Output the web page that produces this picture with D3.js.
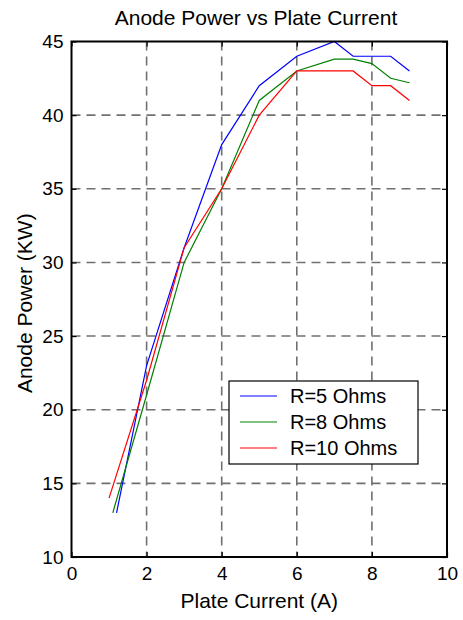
<!DOCTYPE html>
<html>
<head>
<meta charset="utf-8">
<script src="https://cdn.jsdelivr.net/npm/d3@7"></script>
<style>
  html, body { margin: 0; padding: 0; background: #fff; }
  svg { display: block; font-family: "Liberation Sans", Arial, Helvetica, sans-serif; }
</style>
</head>
<body>
<svg id="chart" width="463" height="620"></svg>
<script>
// Plate current (A) and anode power (KW) for three load resistances
const seriesNames = ["R=5 Ohms", "R=8 Ohms", "R=10 Ohms"];
const seriesColors = ["#0000ff", "#008000", "#ff0000"];

const currentR5  = [1.2, 2, 3, 4, 5, 6, 7, 7.5, 8, 8.5, 9];
const powerR5    = [13, 23, 31, 38, 42, 44, 45, 44, 44, 44, 43];

const currentR8  = [1.1, 2, 3, 4, 5, 6, 7, 7.5, 8, 8.5, 9];
const powerR8    = [13, 21, 30, 35, 41, 43, 43.8, 43.8, 43.5, 42.5, 42.2];

const currentR10 = [1, 2, 3, 4, 5, 6, 7, 7.5, 8, 8.5, 9];
const powerR10   = [14, 22, 31, 35, 40, 43, 43, 43, 42, 42, 41];

const xTicks = [0, 2, 4, 6, 8, 10];
const yTicks = [10, 15, 20, 25, 30, 35, 40, 45];

const series = [
  { name: seriesNames[0], color: seriesColors[0], xs: currentR5,  ys: powerR5 },
  { name: seriesNames[1], color: seriesColors[1], xs: currentR8,  ys: powerR8 },
  { name: seriesNames[2], color: seriesColors[2], xs: currentR10, ys: powerR10 }
];

const svg = d3.select("#chart");
const plotLeft = 71.5, plotRight = 447, plotTop = 41.5, plotBottom = 557;

const x = d3.scaleLinear().domain([0, 10]).range([plotLeft, plotRight]);
const y = d3.scaleLinear().domain([10, 45]).range([plotBottom, plotTop]);

// dashed grid
const grid = svg.append("g");
grid.selectAll("line.gx").data(xTicks.filter(t => t > 0 && t < 10)).join("line")
  .attr("x1", d => x(d)).attr("x2", d => x(d))
  .attr("y1", plotTop).attr("y2", plotBottom)
  .attr("stroke", "#707070").attr("stroke-width", 1.6)
  .attr("stroke-dasharray", "9,6");
grid.selectAll("line.gy").data(yTicks.filter(t => t > 10 && t < 45)).join("line")
  .attr("x1", plotLeft).attr("x2", plotRight)
  .attr("y1", d => y(d)).attr("y2", d => y(d))
  .attr("stroke", "#707070").attr("stroke-width", 1.6)
  .attr("stroke-dasharray", "9,6");

// data lines
const line = d3.line().x(d => x(d[0])).y(d => y(d[1]));
svg.append("g").selectAll("path").data(series).join("path")
  .attr("d", s => line(s.xs.map((v, i) => [v, s.ys[i]])))
  .attr("fill", "none")
  .attr("stroke", s => s.color)
  .attr("stroke-width", 1.2);

// axes with inward ticks on all four sides
const tickLen = 5;
const fmt = d3.format("d");
const axisBottom = svg.append("g").attr("transform", `translate(0,${plotBottom})`)
  .call(d3.axisBottom(x).tickValues(xTicks).tickFormat(fmt).tickSizeInner(-tickLen).tickSizeOuter(0).tickPadding(10));
const axisLeft = svg.append("g").attr("transform", `translate(${plotLeft},0)`)
  .call(d3.axisLeft(y).tickValues(yTicks).tickFormat(fmt).tickSizeInner(-tickLen).tickSizeOuter(0).tickPadding(8));
const axisTop = svg.append("g").attr("transform", `translate(0,${plotTop})`)
  .call(d3.axisTop(x).tickValues(xTicks).tickFormat("").tickSizeInner(-tickLen).tickSizeOuter(0));
const axisRight = svg.append("g").attr("transform", `translate(${plotRight},0)`)
  .call(d3.axisRight(y).tickValues(yTicks).tickFormat("").tickSizeInner(-tickLen).tickSizeOuter(0));

[axisBottom, axisLeft, axisTop, axisRight].forEach(g => {
  g.select(".domain").remove();
  g.selectAll(".tick line").attr("stroke", "#000").attr("stroke-width", 1.2);
  g.selectAll(".tick text").attr("fill", "#000").style("font-size", "19px")
    .style("font-family", "'Liberation Sans', Arial, sans-serif");
});

// box frame
svg.append("rect")
  .attr("x", plotLeft).attr("y", plotTop)
  .attr("width", plotRight - plotLeft).attr("height", plotBottom - plotTop)
  .attr("fill", "none").attr("stroke", "#000").attr("stroke-width", 2);

// title and axis labels
svg.append("text").attr("x", 256).attr("y", 25)
  .attr("text-anchor", "middle").style("font-size", "21px")
  .text("Anode Power vs Plate Current");
svg.append("text").attr("x", (plotLeft + plotRight) / 2).attr("y", 608)
  .attr("text-anchor", "middle").style("font-size", "21px")
  .text("Plate Current (A)");
svg.append("text")
  .attr("transform", `translate(32,${(plotTop + plotBottom) / 2 + 4}) rotate(-90)`)
  .attr("text-anchor", "middle").style("font-size", "21px")
  .text("Anode Power (KW)");

// legend
const lg = svg.append("g");
lg.append("rect").attr("x", 229).attr("y", 381).attr("width", 189).attr("height", 83)
  .attr("fill", "#fff").attr("stroke", "#000").attr("stroke-width", 1.2);
const rows = lg.selectAll("g.row").data(series).join("g")
  .attr("transform", (d, i) => `translate(0,${396 + i * 26})`);
rows.append("line").attr("x1", 240).attr("x2", 277).attr("y1", 0).attr("y2", 0)
  .attr("stroke", d => d.color).attr("stroke-width", 1.2);
rows.append("text").attr("x", 290).attr("y", 7)
  .style("font-size", "20px").text(d => d.name);
</script>
</body>
</html>
